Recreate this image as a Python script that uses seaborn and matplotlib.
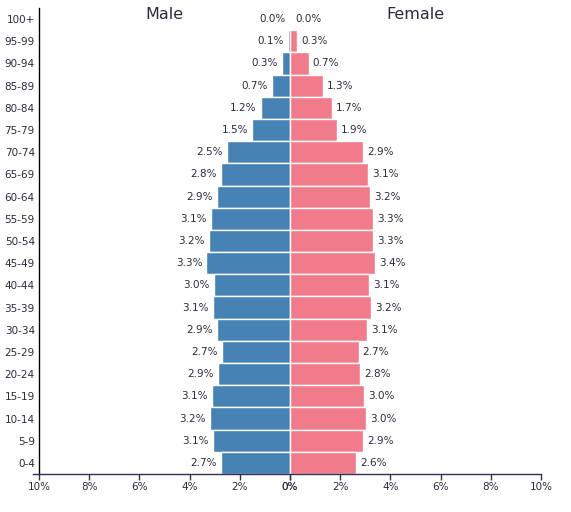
import numpy as np
import pandas as pd
import matplotlib
matplotlib.use('Agg')
import matplotlib.pyplot as plt
import matplotlib.transforms as mtransforms
import seaborn as sns

# age groups, bottom to top
age_groups = ['0-4', '5-9', '10-14', '15-19', '20-24', '25-29', '30-34', '35-39',
              '40-44', '45-49', '50-54', '55-59', '60-64', '65-69', '70-74',
              '75-79', '80-84', '85-89', '90-94', '95-99', '100+']
male_pct = [2.74, 3.07, 3.19, 3.11, 2.87, 2.71, 2.91, 3.07, 3.04, 3.33, 3.23,
            3.14, 2.91, 2.76, 2.52, 1.51, 1.17, 0.72, 0.32, 0.08, 0.01]
female_pct = [2.63, 2.91, 3.03, 2.96, 2.79, 2.73, 3.07, 3.22, 3.14, 3.39, 3.31,
              3.30, 3.18, 3.10, 2.91, 1.87, 1.67, 1.31, 0.74, 0.27, 0.03]
x_ticks = [-10, -8, -6, -4, -2, 0, 0, 2, 4, 6, 8, 10]

male_color = '#4682b4'
female_color = '#ef7b8b'
text_color = '#2b2b3c'

sns.set_theme(style='white')
plt.rcParams['font.family'] = ['DejaVu Sans']

order = age_groups[::-1]
df = pd.DataFrame({'age': age_groups, 'male': [-v for v in male_pct], 'female': female_pct})

fig = plt.figure(figsize=(5.71, 5.12), dpi=100)
ax = fig.add_axes([33 / 571, 38 / 512, 508 / 571, 466 / 512])

sns.barplot(data=df, y='age', x='male', order=order, color=male_color,
            width=1.0, edgecolor='white', linewidth=1, saturation=1, ax=ax)
sns.barplot(data=df, y='age', x='female', order=order, color=female_color,
            width=1.0, edgecolor='white', linewidth=1, saturation=1, ax=ax)

# value labels
male_bars = ax.containers[0]
female_bars = ax.containers[1]
ax.bar_label(male_bars, labels=[f'{abs(v):.1f}%' for v in df.set_index('age').loc[order, 'male']],
             padding=3, fontsize=7.5, color=text_color)
ax.bar_label(female_bars, labels=[f'{v:.1f}%' for v in df.set_index('age').loc[order, 'female']],
             padding=3, fontsize=7.5, color=text_color)

ax.set_xlim(-10.24, 10)
ax.set_ylim(20.5, -0.5)
ax.set_xticks(x_ticks)
ax.set_xticklabels([f'{abs(t)}%' for t in x_ticks])
ax.set_xlabel('')
ax.set_ylabel('')

ax.spines['top'].set_visible(False)
ax.spines['right'].set_visible(False)
ax.spines['left'].set_position(('data', -10))
ax.spines['left'].set_color('black')
ax.spines['left'].set_linewidth(1.0)
ax.spines['bottom'].set_color('#2e3350')
ax.spines['bottom'].set_linewidth(1.0)

ax.tick_params(axis='y', length=0, pad=3, labelsize=7.5, labelcolor=text_color)
ax.tick_params(axis='x', bottom=True, length=4, width=1, color='#2e3350',
               pad=2, labelsize=7.5, labelcolor=text_color)

trans = mtransforms.blended_transform_factory(ax.transData, ax.transAxes)
ax.text(-5, 0.985, 'Male', transform=trans, ha='center', va='center',
        fontsize=11.5, color=text_color)
ax.text(5, 0.985, 'Female', transform=trans, ha='center', va='center',
        fontsize=11.5, color=text_color)

fig.savefig('out.png', dpi=100)
